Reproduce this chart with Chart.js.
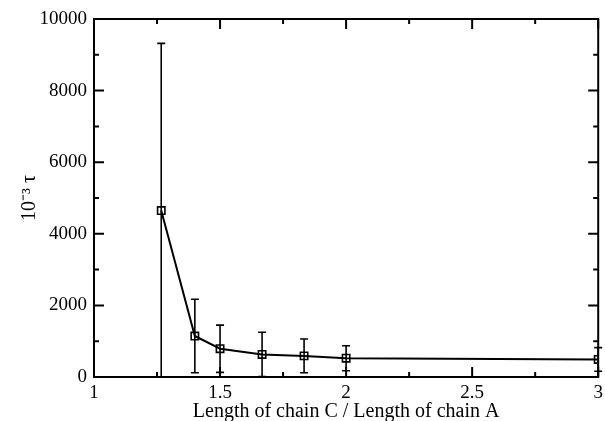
<!DOCTYPE html>
<html>
<head>
<meta charset="utf-8">
<script src="https://cdn.jsdelivr.net/npm/chart.js@4/dist/chart.umd.min.js"></script>
<style>
html,body{margin:0;padding:0;background:#fff;}
#wrap{width:605px;height:421px;}
</style>
</head>
<body>
<div id="wrap"><canvas id="c" width="605" height="421"></canvas></div>
<script>
// Data
const ratios = [1.2667, 1.4, 1.5, 1.6667, 1.8333, 2.0, 3.0];
const tauValues = [4650, 1145, 790, 630, 590, 525, 490];
const tauErrors = [4670, 1025, 660, 620, 470, 350, 330];
const xTickValues = [1, 1.5, 2, 2.5, 3];
const xMinorValues = [1.25, 1.75, 2.25, 2.75];
const yTickValues = [0, 2000, 4000, 6000, 8000, 10000];
const yMinorValues = [1000, 3000, 5000, 7000, 9000];

const points = ratios.map((x, i) => ({x: x, y: tauValues[i]}));
const FONT = "'Liberation Serif', 'Times New Roman', serif";

const errorBarPlugin = {
  id: 'errorBars',
  beforeDatasetsDraw(chart) {
    const {ctx, chartArea, scales} = chart;
    const xs = scales.x, ys = scales.y;
    ctx.save();
    ctx.beginPath();
    ctx.rect(chartArea.left - 6, chartArea.top, chartArea.right - chartArea.left + 12, chartArea.bottom - chartArea.top);
    ctx.clip();
    ctx.strokeStyle = '#000';
    ctx.lineWidth = 1.6;
    ratios.forEach((xv, i) => {
      const px = xs.getPixelForValue(xv);
      const lo = ys.getPixelForValue(Math.max(ys.min, tauValues[i] - tauErrors[i]));
      const hi = ys.getPixelForValue(tauValues[i] + tauErrors[i]);
      ctx.beginPath();
      ctx.moveTo(px, lo); ctx.lineTo(px, hi);
      ctx.moveTo(px - 4, hi); ctx.lineTo(px + 4, hi);
      ctx.moveTo(px - 4, lo); ctx.lineTo(px + 4, lo);
      ctx.stroke();
    });
    ctx.restore();
  }
};

const framePlugin = {
  id: 'frame',
  afterDraw(chart) {
    const {ctx, chartArea, scales} = chart;
    const {left, right, top, bottom} = chartArea;
    ctx.save();
    ctx.strokeStyle = '#000';
    ctx.lineWidth = 2;
    ctx.strokeRect(left, top, right - left, bottom - top);
    ctx.beginPath();
    const maj = 10, min = 5;
    xTickValues.forEach(v => {
      const p = scales.x.getPixelForValue(v);
      ctx.moveTo(p, bottom); ctx.lineTo(p, bottom - maj);
      ctx.moveTo(p, top); ctx.lineTo(p, top + maj);
    });
    xMinorValues.forEach(v => {
      const p = scales.x.getPixelForValue(v);
      ctx.moveTo(p, bottom); ctx.lineTo(p, bottom - min);
      ctx.moveTo(p, top); ctx.lineTo(p, top + min);
    });
    yTickValues.forEach(v => {
      const p = scales.y.getPixelForValue(v);
      ctx.moveTo(left, p); ctx.lineTo(left + maj, p);
      ctx.moveTo(right, p); ctx.lineTo(right - maj, p);
    });
    yMinorValues.forEach(v => {
      const p = scales.y.getPixelForValue(v);
      ctx.moveTo(left, p); ctx.lineTo(left + min, p);
      ctx.moveTo(right, p); ctx.lineTo(right - min, p);
    });
    ctx.stroke();
    ctx.restore();
  }
};

new Chart(document.getElementById('c'), {
  type: 'line',
  data: {
    datasets: [{
      data: points,
      borderColor: '#000',
      borderWidth: 2,
      pointStyle: 'rect',
      pointRadius: 5.2,
      pointBorderWidth: 1.6,
      pointBorderColor: '#000',
      pointBackgroundColor: 'rgba(0,0,0,0)',
      tension: 0,
      fill: false
    }]
  },
  options: {
    responsive: false,
    animation: false,
    events: [],
    layout: {padding: {left: 0, top: 19, right: 2, bottom: 0}},
    plugins: {legend: {display: false}, tooltip: {enabled: false}},
    scales: {
      x: {
        type: 'linear',
        min: 1, max: 3,
        afterFit(s) { s.height = 44; s.paddingRight = 0; s.paddingLeft = 0; },
        afterBuildTicks(s) { s.ticks = xTickValues.map(v => ({value: v})); },
        grid: {display: false, drawTicks: false},
        border: {display: false},
        ticks: {
          color: '#000', padding: 5,
          font: {family: FONT, size: 19},
          maxRotation: 0,
          callback: v => String(v)
        },
        title: {
          display: true,
          text: 'Length of chain C / Length of chain A',
          color: '#000',
          font: {family: FONT, size: 20},
          padding: {top: 0, bottom: -3}
        }
      },
      y: {
        type: 'linear',
        min: 0, max: 10000,
        afterFit(s) { s.width = 94; s.paddingTop = 0; s.paddingBottom = 0; },
        afterBuildTicks(s) { s.ticks = yTickValues.map(v => ({value: v})); },
        grid: {display: false, drawTicks: false},
        border: {display: false},
        ticks: {
          color: '#000', padding: 7,
          font: {family: FONT, size: 19},
          callback: v => String(v)
        },
        title: {
          display: true,
          text: '10⁻³ τ',
          color: '#000',
          font: {family: FONT, size: 20},
          padding: {top: 18, bottom: 0}
        }
      }
    }
  },
  plugins: [errorBarPlugin, framePlugin]
});
</script>
</body>
</html>
